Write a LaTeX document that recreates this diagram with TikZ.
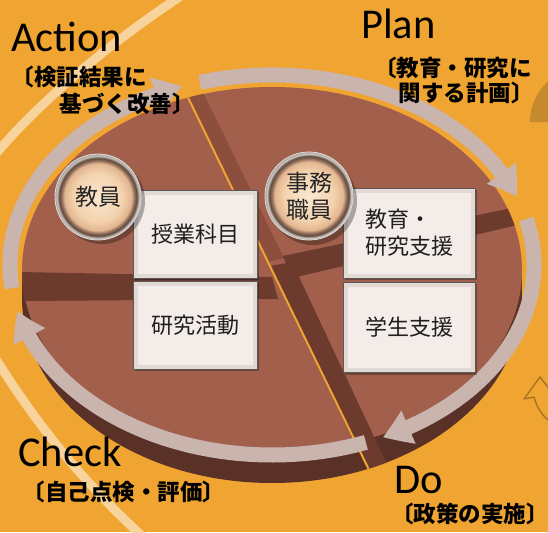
\documentclass[tikz,border=0pt]{standalone}
\usepackage{fontspec}
\setmainfont{Carlito}
\newfontfamily\jp{Noto Sans CJK JP}
\usetikzlibrary{arrows.meta,bending}
\definecolor{bg}{HTML}{F0A431}
\definecolor{lightarc}{HTML}{F8D39B}
\definecolor{disktop}{HTML}{A2604C}
\definecolor{diskside}{HTML}{5A3126}
\definecolor{darkface}{HTML}{6C3B2D}
\definecolor{midface}{HTML}{8C4E3D}
\definecolor{ringc}{HTML}{C9B4AE}
\definecolor{boxedge}{HTML}{E2D9D4}
\definecolor{boxin}{HTML}{F3ECE8}
\definecolor{halfdisk}{HTML}{C68A2E}
\definecolor{outlinearrow}{HTML}{A57422}
\definecolor{bz1}{HTML}{FAE7D0}
\definecolor{bz2}{HTML}{F3D3AE}
\definecolor{bz3}{HTML}{E2B690}
\definecolor{bz4}{HTML}{9A7560}
\definecolor{bz5}{HTML}{5A463A}
\definecolor{bz6}{HTML}{D3CAC3}
\definecolor{bz7}{HTML}{A09890}
\pgfdeclareradialshading{bronze}{\pgfpointorigin}{color(0bp)=(bz1); color(14bp)=(bz2); color(19.5bp)=(bz3); color(21bp)=(bz4); color(22.6bp)=(bz5); color(23.9bp)=(bz6); color(25bp)=(bz7); color(50bp)=(bz7)}
\begin{document}
\begin{tikzpicture}[x=1pt,y=-1pt,
  ringarrow/.style={draw=ringc, line width=15pt, -{Triangle[width=34pt,length=28pt,bend]}},
  latin/.style={inner sep=0pt, anchor=base west, font=\fontsize{42.5}{46}\selectfont, text=black},
  jpl/.style={inner sep=0pt, font=\jp\bfseries\fontsize{22.5}{27}\selectfont, text=black},
  boxst/.style={draw=black!65, line width=0.7pt, fill=boxedge, inner sep=0pt,
    font=\jp\fontsize{22}{27}\selectfont, text=black!88,
    path picture={\fill[boxin] ([shift={(4.5,4.5)}]path picture bounding box.north west) rectangle ([shift={(-4.5,-4.5)}]path picture bounding box.south east);}},
  ballst/.style={circle, inner sep=0pt, shading=bronze, draw=white!75!gray, line width=0.8pt,
    font=\jp\fontsize{23}{27}\selectfont, text=black!85, align=center}
]
\useasboundingbox (0,0) rectangle (548,532);
\fill[bg] (0,0) rectangle (548,532);
% faint background arcs
\draw[lightarc, line width=9pt] (184,-6) .. controls (120,36) and (45,95) .. (-6,156);
\draw[lightarc, line width=9pt] (-6,356) .. controls (40,430) and (90,490) .. (152,545);
% partial shapes at right edge
\fill[halfdisk] (585,122) ++(180:55) arc[start angle=180, end angle=360, radius=55] -- cycle;
\draw[outlinearrow, line width=1.4pt, line join=round] (558,400) -- (540,377) -- (524,399) -- (534,397) .. controls (537,408) and (542,416) .. (552,423);
% disk
\fill[diskside] (22,270) rectangle (522,296);
\fill[diskside] (272,298) ellipse[x radius=250, y radius=185];
\fill[disktop] (272,270) ellipse[x radius=250, y radius=183];
\begin{scope}
\clip (272,270) ellipse[x radius=250, y radius=183] (272,298) ellipse[x radius=250, y radius=185];
\fill[midface] (183,87) -- (268,262) -- (284,258) -- (199,84) -- cycle;
\fill[darkface] (270,266) -- (370,475) -- (392,475) -- (292,262) -- cycle;
\fill[darkface] (20,272) -- (272,277) -- (278,299) -- (25,301) -- cycle;
\fill[darkface] (283,256) -- (526,205) -- (526,223) -- (292,278) -- cycle;
\draw[bg, line width=2pt] (180,81) -- (372,476);
\end{scope}
% cycle arrows
\draw[ringarrow] (272,265) ++(173:262 and 190) arc[start angle=173, end angle=250, x radius=262, y radius=190];
\draw[ringarrow] (272,265) ++(254:262 and 190) arc[start angle=254, end angle=339, x radius=262, y radius=190];
\draw[ringarrow] (272,265) ++(-14:262 and 190) arc[start angle=-14, end angle=65, x radius=262, y radius=190];
\draw[ringarrow] (272,265) ++(69:262 and 190) arc[start angle=69, end angle=166, x radius=262, y radius=190];
% boxes
\fill[black, opacity=0.3] (135,192) rectangle (259,280);
\fill[black, opacity=0.3] (135,283) rectangle (259,371);
\fill[black, opacity=0.3] (345,190) rectangle (477,280);
\fill[black, opacity=0.3] (345,284) rectangle (477,375);
\node[boxst, minimum width=124pt, minimum height=88pt] (b1) at (195,234) {授業科目};
\node[boxst, minimum width=124pt, minimum height=88pt] (b2) at (195,325) {研究活動};
\node[boxst, minimum width=132pt, minimum height=90pt, align=left] (b3) at (409,233) {教育・\\研究支援};
\node[boxst, minimum width=132pt, minimum height=90pt] (b4) at (409,327) {学生支援};
% balls
\fill[black, opacity=0.3] (102,201) circle[radius=43];
\fill[black, opacity=0.3] (313,201) circle[radius=44];
\node[ballst, minimum size=86pt] (c1) at (98,197) {教員};
\node[ballst, minimum size=88pt] (c2) at (309,196) {事務\\職員};
% labels
\node[latin] (act) at (11,52) {Action};
\node[jpl] (act1) at (79,77) {〔検証結果に};
\node[jpl] (act2) at (127,104) {基づく改善〕};
\node[latin] (plan) at (361,39) {Plan};
\node[jpl] (plan1) at (453,68) {〔教育・研究に};
\node[jpl] (plan2) at (466,93) {関する計画〕};
\node[latin] (chk) at (18,466) {Check};
\node[jpl] (chk1) at (124,492) {〔自己点検・評価〕};
\node[latin] (do) at (394,493) {Do};
\node[jpl] (do1) at (470,514) {〔政策の実施〕};
\end{tikzpicture}
\end{document}
